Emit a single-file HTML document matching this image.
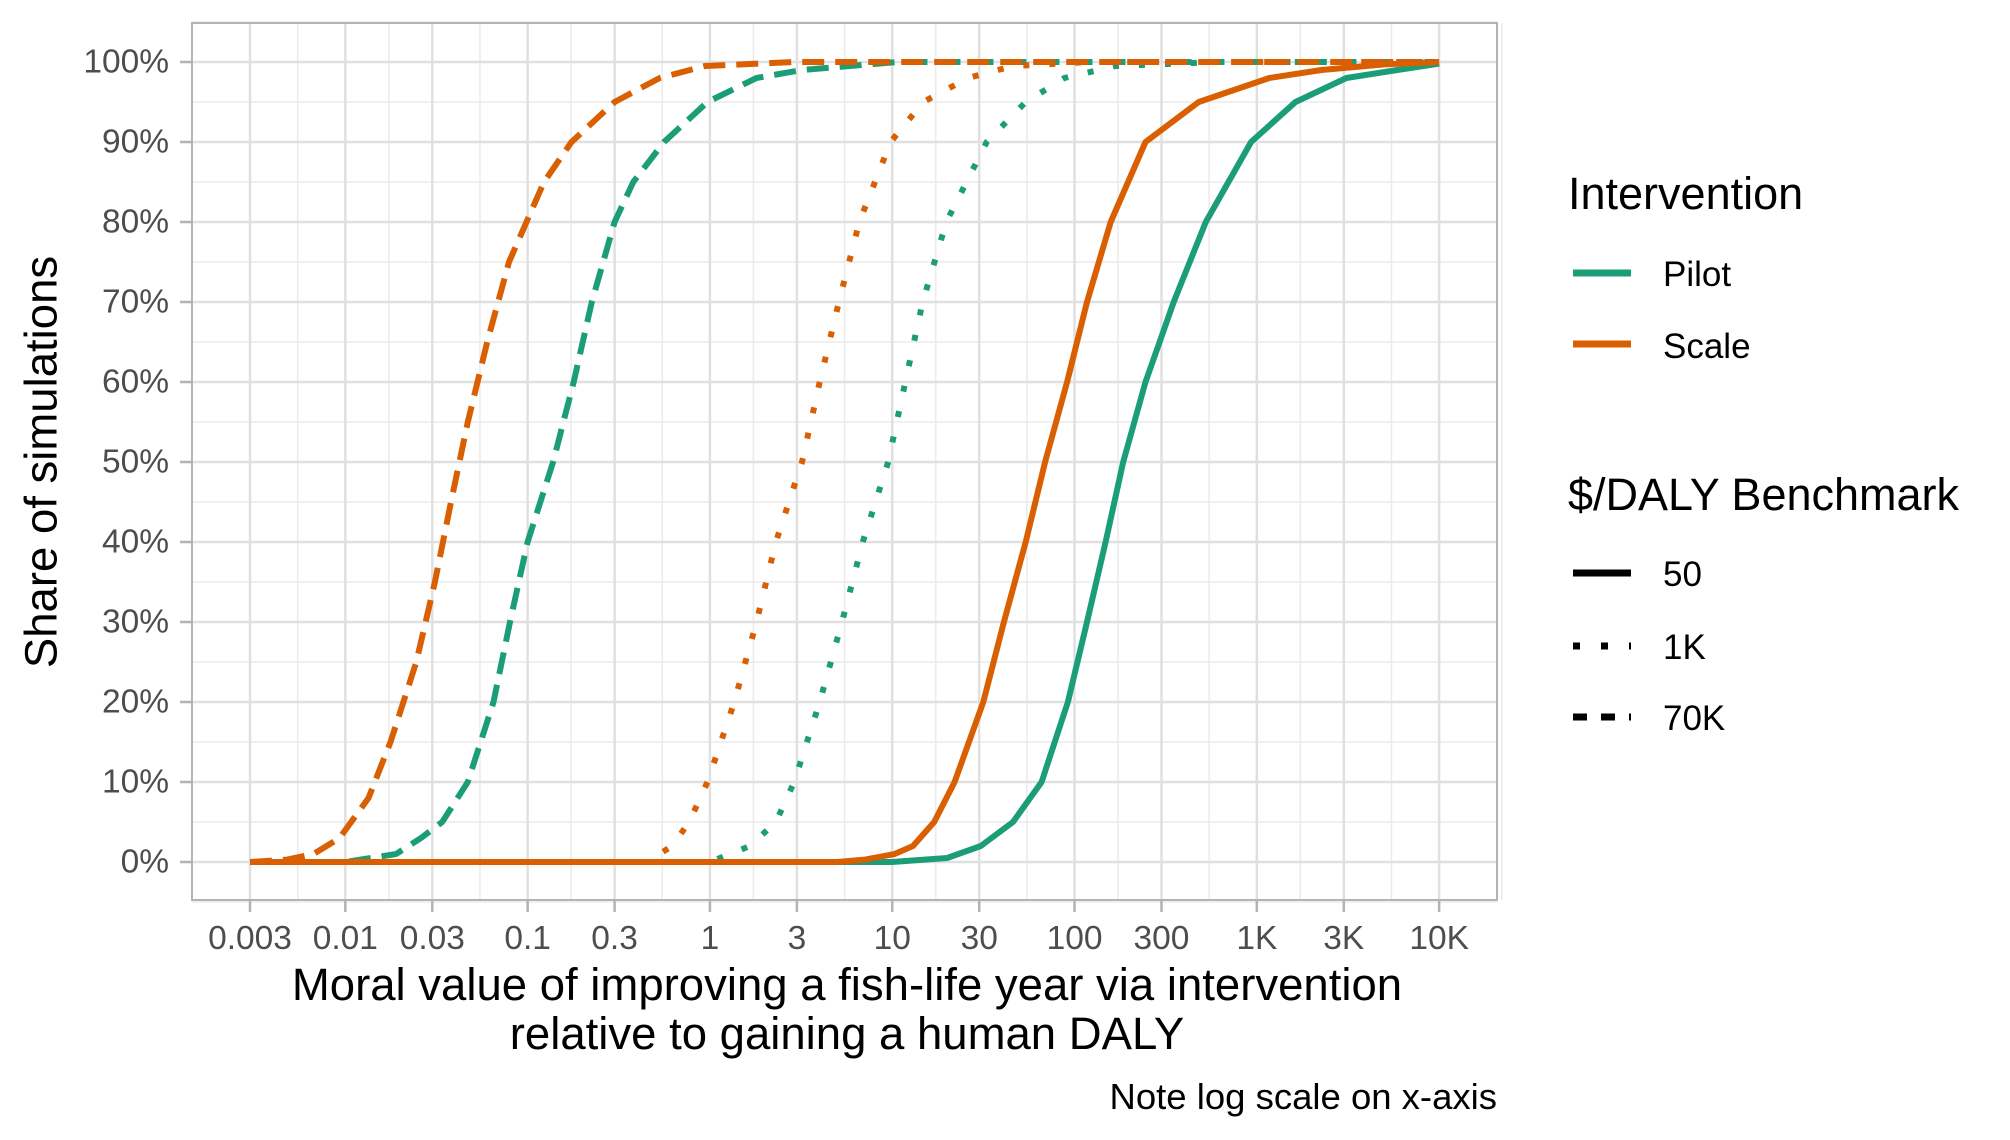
<!DOCTYPE html>
<html><head><meta charset="utf-8"><style>
html,body{margin:0;padding:0;background:#fff;}
svg{display:block;font-family:"Liberation Sans",Arial,sans-serif;}
</style></head><body>
<svg id="chart" width="2010" height="1140" viewBox="0 0 2010 1140">
<rect width="2010" height="1140" fill="#fff"/>
<g id="grid"></g>
<g id="series"></g>
<rect x="192" y="23" width="1305" height="877" fill="none" stroke="#b3b3b3" stroke-width="2"/>
<g id="axes"></g>
<text x="41" y="462" transform="rotate(-90 41 462)" text-anchor="middle" dominant-baseline="central" font-size="45.5" fill="#000">Share of simulations</text>
<text x="847" y="1000" text-anchor="middle" font-size="45.5" fill="#000">Moral value of improving a fish-life year via intervention</text>
<text x="847" y="1049" text-anchor="middle" font-size="45.5" fill="#000">relative to gaining a human DALY</text>
<text x="1497" y="1109" text-anchor="end" font-size="36.5" fill="#000">Note log scale on x-axis</text>
<g>
<text x="1568" y="209" font-size="45" fill="#000">Intervention</text>
<line x1="1573" y1="273" x2="1631" y2="273" stroke="#1B9E77" stroke-width="7"/>
<text x="1663" y="286" font-size="35" fill="#000">Pilot</text>
<line x1="1573" y1="344" x2="1631" y2="344" stroke="#D95F02" stroke-width="7"/>
<text x="1663" y="358" font-size="35" fill="#000">Scale</text>
</g>
<g>
<text x="1568" y="510" font-size="45" fill="#000">$/DALY Benchmark</text>
<line x1="1573" y1="573" x2="1631" y2="573" stroke="#000" stroke-width="7"/>
<text x="1663" y="586" font-size="35" fill="#000">50</text>
<line x1="1573" y1="646" x2="1631" y2="646" stroke="#000" stroke-width="7" stroke-dasharray="7,21"/>
<text x="1663" y="659" font-size="35" fill="#000">1K</text>
<line x1="1573" y1="717" x2="1631" y2="717" stroke="#000" stroke-width="7" stroke-dasharray="14,14"/>
<text x="1663" y="730" font-size="35" fill="#000">70K</text>
</g>
</svg>
<script>
const xTicks = [0.003, 0.01, 0.03, 0.1, 0.3, 1, 3, 10, 30, 100, 300, 1000, 3000, 10000];
const xTickLabels = ["0.003","0.01","0.03","0.1","0.3","1","3","10","30","100","300","1K","3K","10K"];
const yTicks = [0,10,20,30,40,50,60,70,80,90,100];
const yTickLabels = ["0%","10%","20%","30%","40%","50%","60%","70%","80%","90%","100%"];

const pilot50X = [0.003,10,20,30.6,46,66,92,117,148,185,245,350,525,930,1630,3100,5900,10000];
const pilot50Y = [0,0,0.5,2,5,10,20,30,40,50,60,70,80,90,95,98,99,99.8];
const scale50X = [0.003,5,7.1,10.3,13,17,22,31.6,41,54,69,91,117,158,245,480,1170,2260,5000,10000];
const scale50Y = [0,0,0.3,1,2,5,10,20,30,40,50,60,70,80,90,95,98,99,99.7,100];
const pilot1kX = [0.003,1.0,1.66,2.3,2.9,4.0,5.3,6.9,9.5,11.8,14.7,19.8,33,54,88,168,610,10000];
const pilot1kY = [0,0,2,5,10,20,30,40,50,60,70,80,90,95,98,99.5,100,100];
const scale1kX = [0.003,0.45,0.62,0.77,0.97,1.36,1.8,2.3,3.2,4.0,5.1,6.6,9.8,14.8,26,46,120,10000];
const scale1kY = [0,0,2,5,10,20,30,40,50,60,70,80,90,95,98,99.5,100,100];
const pilot70kX = [0.003,0.01,0.019,0.026,0.034,0.047,0.065,0.08,0.1,0.138,0.179,0.225,0.30,0.38,0.56,0.97,1.8,3.2,10.7,10000];
const pilot70kY = [0,0,1,3,5,10,20,30,40,50,60,70,80,85,90,95,98,99,100,100];
const scale70kX = [0.003,0.0048,0.0067,0.0093,0.0134,0.0177,0.0245,0.031,0.038,0.047,0.06,0.079,0.123,0.174,0.30,0.53,0.94,2.9,10000];
const scale70kY = [0,0.3,1,3,8,15,25,35,45,55,65,75,85,90,95,98,99.5,100,100];

const X0 = 250, DEC = 182.3, LOG0 = Math.log10(0.003);
function xScale(v){ return X0 + (Math.log10(v) - LOG0) * DEC; }
function yScale(p){ return 862 - p * 8; }
const NS = "http://www.w3.org/2000/svg";
function mk(tag, attrs, parent){ const e = document.createElementNS(NS, tag); for (const k in attrs) e.setAttribute(k, attrs[k]); parent.appendChild(e); return e; }

const grid = document.getElementById('grid');
const axes = document.getElementById('axes');
mk('rect', {x:192,y:23,width:1305,height:877,fill:'#fff'}, grid);
for (let i = 0; i < yTicks.length - 1; i++) {
  const y = yScale((yTicks[i] + yTicks[i+1]) / 2);
  const l = mk('line', {x1:192,x2:1497,y1:y,y2:y,stroke:'#ebebeb','stroke-width':1.5}, grid);
  
  
}
[yScale(-5), yScale(105)].forEach(y => {
  const l = mk('line', {x1:192,x2:1497,y1:y,y2:y,stroke:'#ebebeb','stroke-width':1.5}, grid);
  
  
});
for (let i = 0; i < xTicks.length - 1; i++) {
  const x = X0 + ((Math.log10(xTicks[i]) + Math.log10(xTicks[i+1])) / 2 - LOG0) * DEC;
  const l = mk('line', {x1:x,x2:x,y1:23,y2:900,stroke:'#ebebeb','stroke-width':1.5}, grid);
  
  
}
{
  const x = xScale(10000) + (xScale(10000) - xScale(3000)) * 0.5 + 15;
  const l = mk('line', {x1:x,x2:x,y1:23,y2:900,stroke:'#ebebeb','stroke-width':1.5}, grid);
  
  
}
yTicks.forEach((t, i) => {
  const y = yScale(t);
  const l = mk('line', {x1:192,x2:1497,y1:y,y2:y,stroke:'#e0e0e0','stroke-width':2.5}, grid);
  
  
  const tk = mk('line', {x1:180,x2:192,y1:y,y2:y,stroke:'#b3b3b3','stroke-width':2.5}, axes);
  
  
  const tx = mk('text', {x:169,y:y,'text-anchor':'end','dominant-baseline':'central','font-size':33.5,fill:'#4d4d4d'}, axes);
  tx.textContent = yTickLabels[i];
  
  
});
xTicks.forEach((t, i) => {
  const x = xScale(t);
  const l = mk('line', {x1:x,x2:x,y1:23,y2:900,stroke:'#e0e0e0','stroke-width':2.5}, grid);
  
  
  const tk = mk('line', {x1:x,x2:x,y1:900,y2:912,stroke:'#b3b3b3','stroke-width':2.5}, axes);
  
  
  const tx = mk('text', {x:x,y:949,'text-anchor':'middle','font-size':33.5,fill:'#4d4d4d'}, axes);
  tx.textContent = xTickLabels[i];
  
  
});

const seriesG = document.getElementById('series');
function drawSeries(xs, ys, color, dash, name){
  const pts = xs.map((v, i) => xScale(v).toFixed(1) + ',' + yScale(ys[i]).toFixed(1)).join(' ');
  const p = mk('polyline', {points:pts, fill:'none', stroke:color, 'stroke-width':6, 'stroke-linejoin':'round'}, seriesG);
  if (dash) p.setAttribute('stroke-dasharray', dash);
  
  
}
const G = '#1B9E77', O = '#D95F02';
drawSeries(pilot50X, pilot50Y, G, null, 'line-pilot-50');
drawSeries(pilot1kX, pilot1kY, G, '6,20', 'line-pilot-1k');
drawSeries(pilot70kX, pilot70kY, G, '22,11', 'line-pilot-70k');
drawSeries(scale50X, scale50Y, O, null, 'line-scale-50');
drawSeries(scale1kX, scale1kY, O, '6,20', 'line-scale-1k');
drawSeries(scale70kX, scale70kY, O, '22,11', 'line-scale-70k');
</script>
</body></html>
